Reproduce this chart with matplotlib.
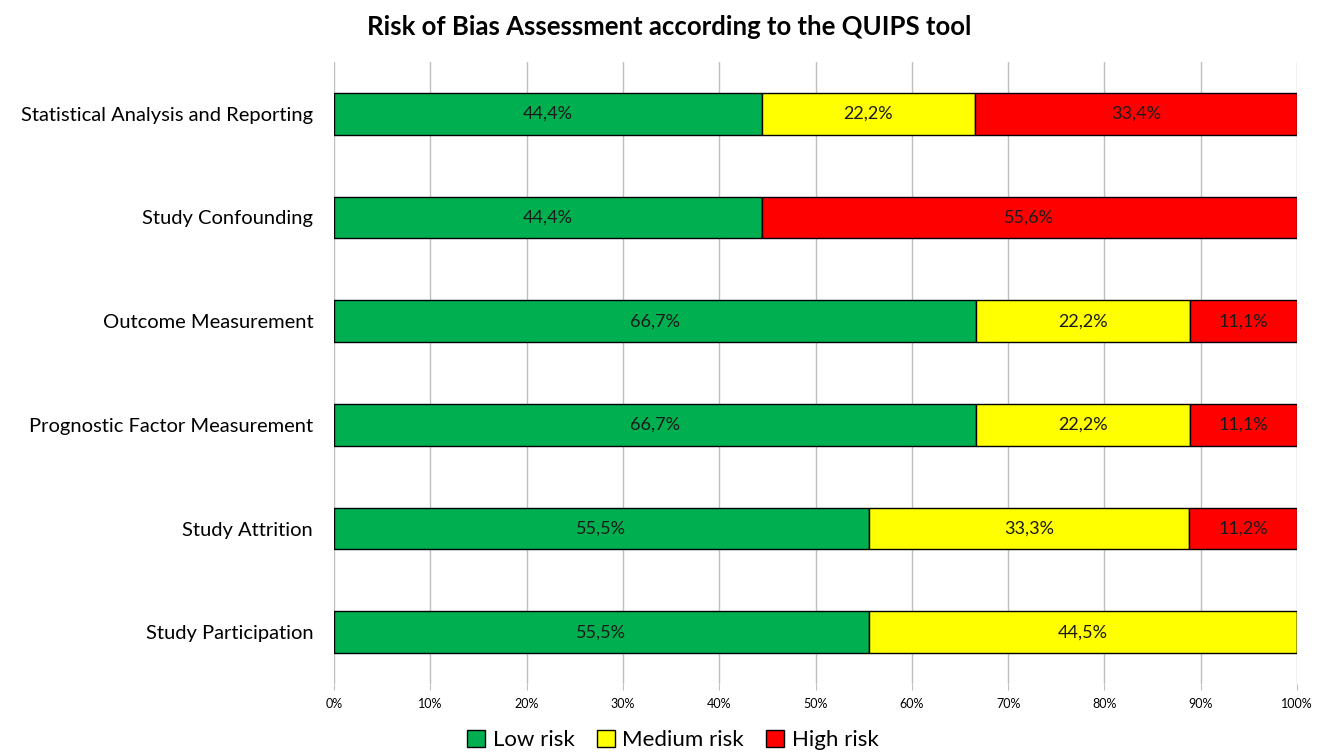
import numpy as np
import matplotlib
matplotlib.use("Agg")
import matplotlib.pyplot as plt
from matplotlib.patches import Patch

plt.rcParams['font.family'] = ['Lato', 'DejaVu Sans']

categories = ["Study Participation", "Study Attrition", "Prognostic Factor Measurement",
              "Outcome Measurement", "Study Confounding", "Statistical Analysis and Reporting"]
low = [55.5, 55.5, 66.7, 66.7, 44.4, 44.4]
medium = [44.5, 33.3, 22.2, 22.2, 0.0, 22.2]
high = [0.0, 11.2, 11.1, 11.1, 55.6, 33.4]
series_names = ["Low risk", "Medium risk", "High risk"]
colors = ["#00B050", "#FFFF00", "#FF0000"]

fig = plt.figure(figsize=(13.22, 7.52), dpi=100)
ax = fig.add_axes([0.2527, 0.0904, 0.7284, 0.8272])

y = np.arange(len(categories))
left = np.zeros(len(categories))
for vals, col in zip([low, medium, high], colors):
    vals = np.array(vals)
    ax.barh(y, vals, left=left, height=0.4, color=col, edgecolor="black", lw=1, zorder=3)
    for yi, l, v in zip(y, left, vals):
        if v > 0:
            ax.text(l + v / 2, yi, f"{v:.1f}%".replace(".", ","), ha="center", va="center",
                    fontsize=13, color="#1a1a1a", zorder=4)
    left += vals

ax.set_xlim(0, 100)
ax.set_ylim(-0.5, 5.5)
ax.set_xticks(np.arange(0, 101, 10))
ax.set_xticklabels([f"{t}%" for t in range(0, 101, 10)], fontsize=9)
ax.set_yticks(y)
ax.set_yticklabels(categories, fontsize=14.5)
ax.tick_params(axis="y", length=0, pad=15)
ax.tick_params(axis="x", length=4, color="#bfbfbf", pad=6)
ax.grid(axis="x", color="#bfbfbf", lw=1, zorder=0)
for s in ax.spines.values():
    s.set_visible(False)

fig.suptitle("Risk of Bias Assessment according to the QUIPS tool", x=0.506, y=0.98,
             fontsize=18.5, fontweight="bold")

handles = [Patch(facecolor=c, edgecolor="black", label=n) for c, n in zip(colors, series_names)]
fig.legend(handles=handles, loc="center", bbox_to_anchor=(0.509, 0.016), ncol=3, frameon=False,
           fontsize=16, handlelength=0.8, handleheight=0.8, handletextpad=0.35, columnspacing=1.0)

plt.savefig("out.png", dpi=100)
